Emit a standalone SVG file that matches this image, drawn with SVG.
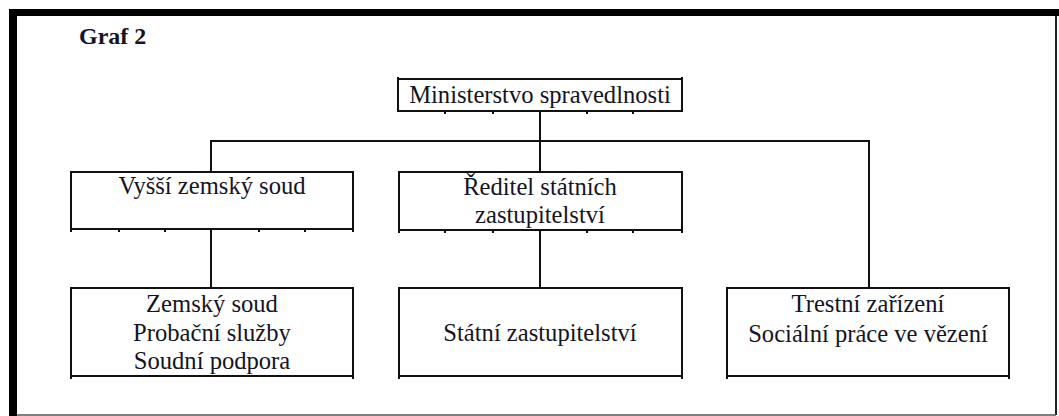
<svg xmlns="http://www.w3.org/2000/svg" width="1059" height="416" viewBox="0 0 1059 416" font-family="'Liberation Serif', 'DejaVu Serif', serif">
<style>
.box{fill:#fff;stroke:#111;stroke-width:2}
.tick{fill:none;stroke:#111;stroke-width:2}
.conn{fill:none;stroke:#111;stroke-width:2}
text{font-family:'Liberation Serif', 'DejaVu Serif', serif;font-size:24.6px;fill:#141424;text-anchor:middle}
.title{font-weight:bold;text-anchor:start;font-size:24px}
</style>
<rect x="0" y="0" width="1059" height="416" fill="#fff"/>
<g id="frame">
<rect x="9" y="9" width="8" height="407" fill="#000"/>
<rect x="9" y="9" width="1050" height="7" fill="#000"/>
<line x1="1056" y1="16" x2="1056" y2="415" stroke="#222" stroke-width="2"/>
<line x1="17" y1="415" x2="1056" y2="415" stroke="#555" stroke-width="1.5"/>
</g>
<text class="title" x="79" y="44">Graf 2</text>
<g id="connectors">
<path class="conn" d="M540,111 V141 M210,141 H870 M211,141 V172 M540,141 V172 M869,141 V288 M211,229 V288 M540,230 V288"/>
</g>
<g id="ministerstvo">
<rect class="box" x="398" y="79" width="284" height="32"/>
<path class="tick" d="M445,111 v3 M493,111 v3 M587,111 v3 M633,111 v3 M398,79 v-2 M682,79 v-2"/>
<text x="540" y="103">Ministerstvo spravedlnosti</text>
</g>
<g id="vyssi-soud">
<rect class="box" x="71" y="172" width="282" height="57"/>
<path class="tick" d="M71,229 v3 M119,229 v3 M165,229 v3 M259,229 v3 M305,229 v3 M353,229 v3"/>
<text x="212" y="194">Vyšší zemský soud</text>
</g>
<g id="reditel">
<rect class="box" x="399" y="172" width="283" height="58"/>
<path class="tick" d="M399,230 v3 M445,230 v3 M493,230 v3 M587,230 v3 M633,230 v3 M682,230 v3"/>
<text x="540" y="195">Ředitel státních</text>
<text x="540" y="223">zastupitelství</text>
</g>
<g id="zemsky-soud">
<rect class="box" x="71" y="288" width="282" height="88"/>
<path class="tick" d="M71,376 v3 M353,376 v3"/>
<text x="212" y="312">Zemský soud</text>
<text x="212" y="341">Probační služby</text>
<text x="212" y="369">Soudní podpora</text>
</g>
<g id="statni-zastupitelstvi">
<rect class="box" x="399" y="288" width="283" height="88"/>
<path class="tick" d="M399,376 v3 M682,376 v3"/>
<text x="540" y="341">Státní zastupitelství</text>
</g>
<g id="trestni-zarizeni">
<rect class="box" x="727" y="288" width="282" height="88"/>
<path class="tick" d="M727,376 v3 M1009,376 v3"/>
<text x="868" y="312">Trestní zařízení</text>
<text x="868" y="342">Sociální práce ve vězení</text>
</g>
</svg>
